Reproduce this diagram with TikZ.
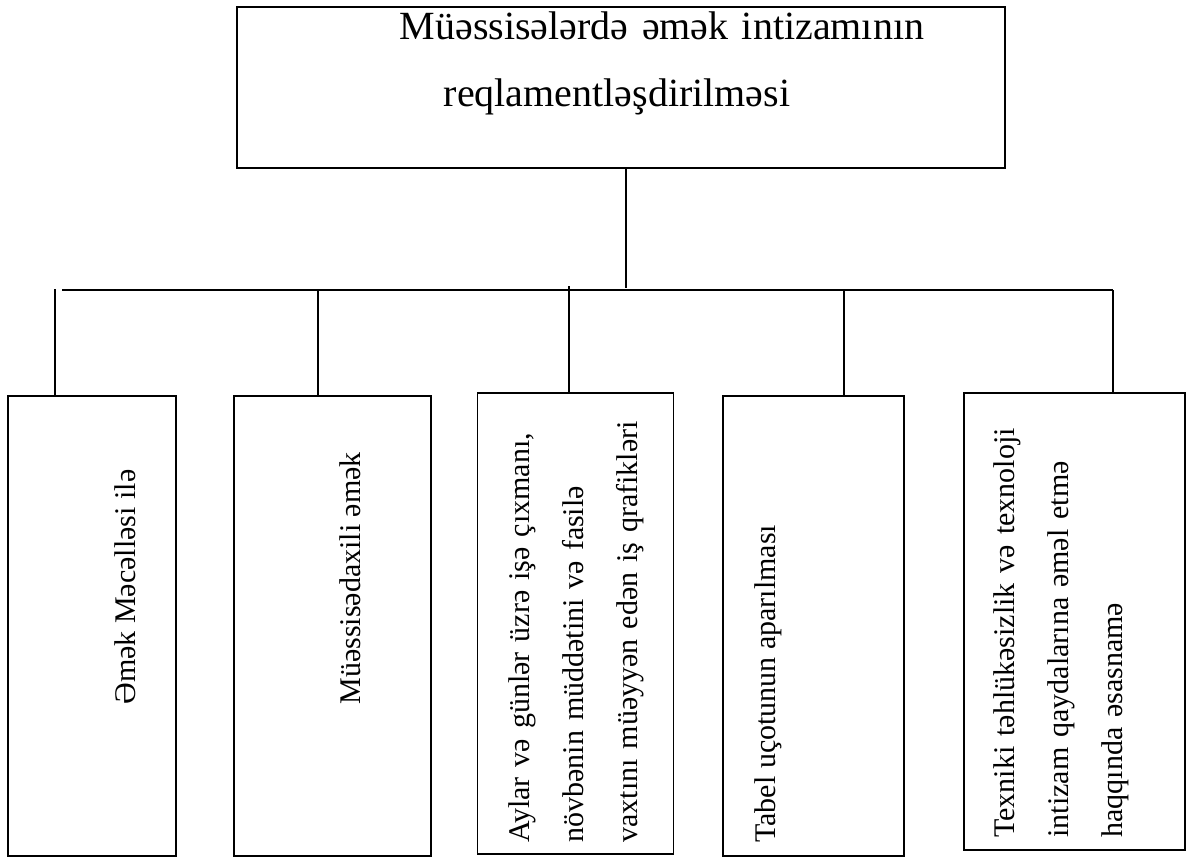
\documentclass[tikz,border=0pt]{standalone}
\usepackage{fontspec}
\setmainfont{Liberation Serif}
\usepackage{tikz}
\usetikzlibrary{positioning}
\newcommand{\titlesize}{\fontsize{20}{33.5}\selectfont}
\newcommand{\cellsize}{\fontsize{15}{27}\selectfont}
\newcommand{\jline}[1]{\makebox[\linewidth][s]{#1}}

\begin{document}
\begin{tikzpicture}[x=0.5pt, y=-0.5pt, every node/.style={inner sep=0pt},
  cell/.style={draw, line width=0.6pt},
  link/.style={line width=0.6pt},
  vtext/.style={rotate=90, anchor=base west, font=\cellsize}]
\useasboundingbox (0,0) rectangle (1187,857);

% head box
\node (head) [draw, line width=1pt, minimum width=384pt, minimum height=80.5pt] at (621,87.5) {};
\node (title) [anchor=base, text width=350pt, align=center, font=\titlesize] at (617,39)
  {\hspace*{45pt}Müəssisələrdə əmək intizamının\\reqlamentləşdirilməsi};

% lower boxes
\node (b1) [cell, minimum width=84pt, minimum height=230pt] at (92,626) {};
\node (b2) [cell, minimum width=98.5pt, minimum height=230pt] at (332.5,626) {};
\node (b3) [cell, minimum width=98pt, minimum height=230.5pt] at (575.5,623.5) {};
\node (b4) [cell, minimum width=90.5pt, minimum height=230pt] at (813.5,626) {};
\node (b5) [cell, minimum width=110.5pt, minimum height=228.5pt] at (1074.5,621.5) {};

\node (t1) [vtext] at (135,705) {Əmək Məcəlləsi ilə};
\node (t2) [vtext] at (360,705) {Müəssisədaxili əmək};
\node (t3) [vtext, text width=217.5pt, align=left] at (529.5,843)
  {\jline{Aylar və günlər üzrə işə çıxmanı,}\\\jline{növbənin müddətini və fasilə}\\vaxtını müəyyən edən iş qrafikləri};
\node (t4) [vtext] at (775,843) {Tabel uçotunun aparılması};
\node (t5) [vtext, text width=216.5pt, align=left] at (1014,838)
  {\jline{Texniki təhlükəsizlik və texnoloji}\\\jline{intizam qaydalarına əməl etmə}\\haqqında əsasnamə};

% connectors
\coordinate (hub) at (626,288);
\coordinate (barL) at (62,290);
\coordinate (barR) at (1113,290);
\coordinate (d1) at (55,289);
\coordinate (d2) at (318,290);
\coordinate (d3) at (569,286);
\coordinate (d4) at (844,290);
\draw[link] (head.south -| hub) -- (hub);
\draw[link] (barL) -- (barR);
\draw[link] (d1) -- (b1.north -| d1);
\draw[link] (d2) -- (b2.north -| d2);
\draw[link] (d3) -- (b3.north -| d3);
\draw[link] (d4) -- (b4.north -| d4);
\draw[link] (barR) -- (b5.north -| barR);
\end{tikzpicture}
\end{document}
